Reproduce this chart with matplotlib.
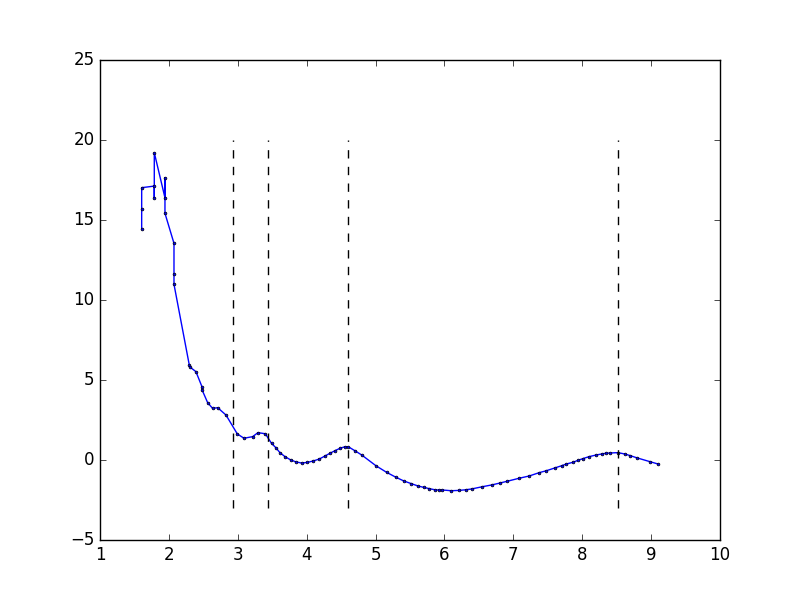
import matplotlib
matplotlib.use("Agg")
import matplotlib.pyplot as plt

# curve points
x = [1.605, 1.605, 1.605, 1.788, 1.788, 1.788, 1.943, 1.943, 1.943,
     2.074, 2.074, 2.074, 2.296, 2.30, 2.393, 2.48, 2.48, 2.563, 2.634,
     2.708, 2.829, 2.993, 3.09, 3.216, 3.293, 3.40, 3.49, 3.55, 3.612,
     3.685, 3.77, 3.845, 3.927, 4.01, 4.096, 4.183, 4.266, 4.338, 4.41,
     4.483, 4.556, 4.604, 4.70, 4.80, 5.006, 5.16, 5.296, 5.41, 5.52,
     5.62, 5.70, 5.78, 5.86, 5.92, 5.97, 6.10, 6.215, 6.31, 6.395, 6.55,
     6.685, 6.805, 6.91, 7.085, 7.23, 7.376, 7.48, 7.60, 7.70, 7.77,
     7.86, 7.94, 8.005, 8.10, 8.20, 8.28, 8.34, 8.41, 8.52, 8.617, 8.70,
     8.79, 8.98, 9.10]
y = [14.44, 15.69, 17.02, 17.12, 16.39, 19.21, 16.39, 17.64, 15.42,
     13.54, 11.62, 10.98, 5.94, 5.83, 5.52, 4.58, 4.40, 3.58, 3.23,
     3.27, 2.81, 1.63, 1.36, 1.46, 1.71, 1.64, 1.04, 0.78, 0.46,
     0.21, 0.0, -0.12, -0.19, -0.15, -0.06, 0.06, 0.25, 0.42, 0.58,
     0.73, 0.83, 0.83, 0.58, 0.31, -0.36, -0.77, -1.08, -1.31, -1.48,
     -1.63, -1.71, -1.79, -1.86, -1.875, -1.875, -1.92, -1.9, -1.86, -1.81, -1.67,
     -1.56, -1.44, -1.33, -1.14, -1.0, -0.79, -0.67, -0.5, -0.36, -0.25,
     -0.15, -0.02, 0.08, 0.21, 0.31, 0.375, 0.42, 0.44, 0.46, 0.375, 0.27,
     0.14, -0.1, -0.25]

# dashed markers
vline_x = [2.93, 3.44, 4.60, 8.52]
vline_lo, vline_hi = -3, 20

plt.style.use('classic')
fig, ax = plt.subplots(figsize=(8, 6), dpi=100)
fig.patch.set_facecolor('white')

ax.plot(x, y, color='b', marker='o', markersize=2, markerfacecolor='b',
        markeredgecolor='k', markeredgewidth=0.5, linewidth=1)
ax.vlines(vline_x, vline_lo, vline_hi, colors='k', linestyles='--', linewidth=1)

ax.set_xlim(1, 10)
ax.set_ylim(-5, 25)

fig.savefig('out.png', dpi=100, facecolor='white')
